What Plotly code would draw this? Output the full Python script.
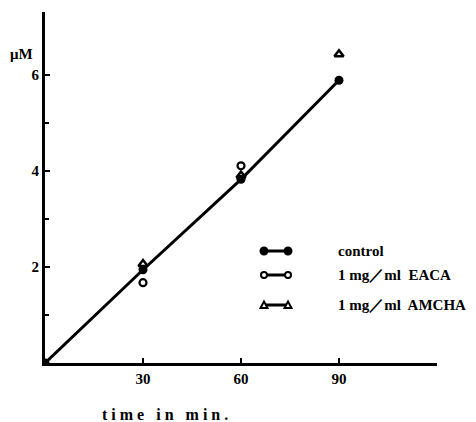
import plotly.graph_objects as go

# Data
time_control = [0, 30, 60, 90]
control = [0, 1.94, 3.82, 5.88]
time_eaca = [30, 60]
eaca = [1.67, 4.1]
time_amcha = [30, 60, 90]
amcha = [2.06, 3.9, 6.42]

x_ticks = [30, 60, 90]
y_ticks = [2, 4, 6]
y_minor = [1, 3, 5]

legend_labels = ["control", "1 mg／ml  EACA", "1 mg／ml  AMCHA"]
legend_symbols = ["filled", "open", "triangle"]

FONT = "Liberation Serif"

fig = go.Figure()
fig.add_trace(go.Scatter(x=time_amcha, y=amcha, mode="markers",
                         marker=dict(symbol="triangle-up-open", size=8, color="black",
                                     line=dict(width=2.5, color="black")),
                         showlegend=False))
fig.add_trace(go.Scatter(x=time_eaca, y=eaca, mode="markers",
                         marker=dict(symbol="circle-open", size=7, color="black",
                                     line=dict(width=2.2, color="black")),
                         showlegend=False))
fig.add_trace(go.Scatter(x=time_control, y=control, mode="lines+markers",
                         line=dict(color="black", width=3),
                         marker=dict(symbol="circle", size=9, color="black"),
                         showlegend=False))

fig.update_xaxes(range=[0, 120], tickvals=x_ticks, ticktext=[str(v) for v in x_ticks],
                 ticks="inside", ticklen=5, tickwidth=1.5, tickcolor="black",
                 showline=True, linecolor="black", linewidth=3, showgrid=False,
                 zeroline=False, tickfont=dict(family=FONT, size=15, color="black", weight="bold"))
fig.update_yaxes(range=[0, 7.3], tickvals=y_ticks, ticktext=[str(v) for v in y_ticks],
                 ticks="inside", ticklen=5, tickwidth=1.5, tickcolor="black",
                 minor=dict(tickvals=y_minor, ticks="inside", ticklen=4, tickcolor="black"),
                 showline=True, linecolor="black", linewidth=3, showgrid=False,
                 zeroline=False, tickfont=dict(family=FONT, size=15, color="black", weight="bold"))


def px2paper(px, py):
    return (px - 45) / 392, (363 - py) / 351


def marker_shape(kind, xp, yp):
    common = dict(xref="paper", yref="paper", xsizemode="pixel", ysizemode="pixel",
                  xanchor=xp, yanchor=yp, line=dict(color="black", width=2))
    if kind == "filled":
        return dict(type="circle", x0=-3.5, x1=3.5, y0=-3.5, y1=3.5, fillcolor="black", **common)
    if kind == "open":
        return dict(type="circle", x0=-3, x1=3, y0=-3, y1=3, fillcolor="white", **common)
    return dict(type="path", path="M -3.5,-3 L 3.5,-3 L 0,3.5 Z", fillcolor="white", **common)


rows_py = [251, 275, 305]
for kind, label, py in zip(legend_symbols, legend_labels, rows_py):
    x1, y = px2paper(264, py)
    x2, _ = px2paper(288, py)
    xt, _ = px2paper(336, py)
    fig.add_shape(type="line", xref="paper", yref="paper", x0=x1, x1=x2, y0=y, y1=y,
                  line=dict(color="black", width=3))
    fig.add_shape(**marker_shape(kind, x1, y))
    fig.add_shape(**marker_shape(kind, x2, y))
    fig.add_annotation(x=xt, y=y, xref="paper", yref="paper", text=label, showarrow=False,
                       font=dict(family=FONT, size=15, color="black", weight="bold"),
                       xanchor="left", yanchor="middle")

mx, my = px2paper(8, 54)
fig.add_annotation(x=mx, y=my, xref="paper", yref="paper", text="μM", showarrow=False,
                   font=dict(family=FONT, size=15, color="black", weight="bold"),
                   xanchor="left", yanchor="middle")

tx, ty = px2paper(100, 414)
fig.add_annotation(x=tx, y=ty, xref="paper", yref="paper",
                   text="t i m e   i n   m i n .", showarrow=False,
                   font=dict(family=FONT, size=16, color="black", weight="bold"),
                   xanchor="left", yanchor="middle")

fig.update_layout(width=476, height=422, margin=dict(l=45, r=39, t=12, b=59),
                  plot_bgcolor="white", paper_bgcolor="white")
fig.write_html("out.html")
